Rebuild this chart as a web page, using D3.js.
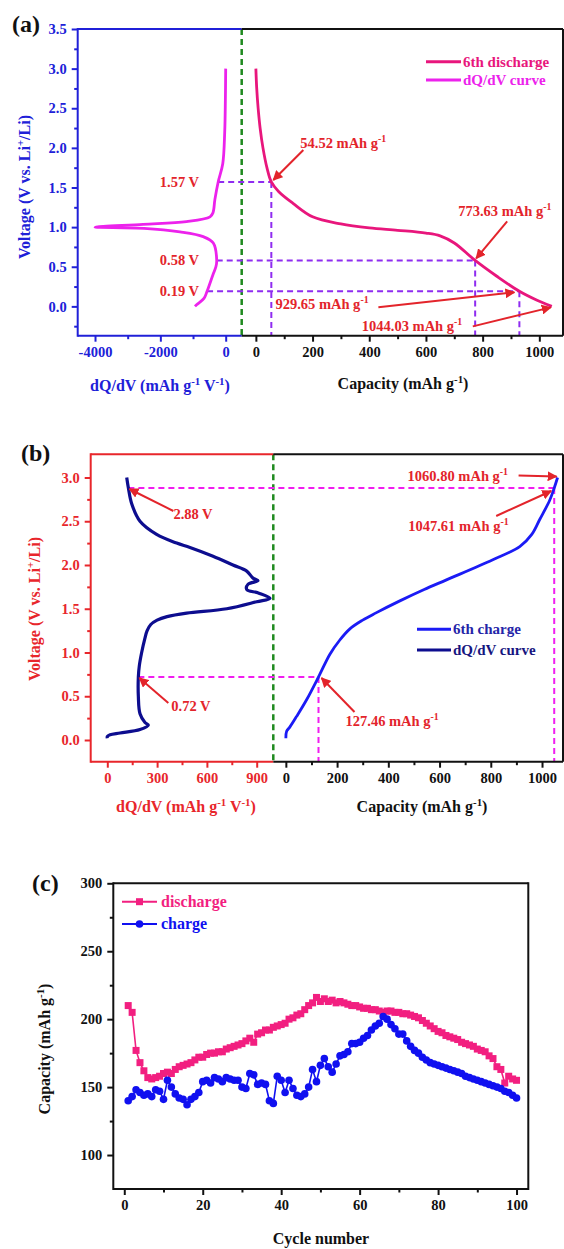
<!DOCTYPE html>
<html>
<head>
<meta charset="utf-8">
<script src="https://cdn.jsdelivr.net/npm/d3@7"></script>
<style>
  body { margin: 0; background: #fff; }
  svg { display: block; font-family: "Liberation Serif", "Times New Roman", serif; font-weight: bold; }
</style>
</head>
<body>
<div id="chart"></div>
<script>
// ---- panel (a): 6th discharge, [capacity, voltage]
var dischargeCurve = [[0, 3.0], [3, 2.75], [8, 2.5], [15, 2.25], [25, 2.0], [39, 1.75], [54.52, 1.57],
  [80, 1.45], [131, 1.30], [200, 1.13], [300, 1.04], [400, 0.99], [500, 0.96], [600, 0.925],
  [650, 0.89], [700, 0.80], [773.63, 0.58], [850, 0.38], [929.65, 0.19], [990, 0.08], [1044.03, 0.0]];
// dQ/dV of the discharge, [dQ/dV, voltage]
var dischargeDqdv = [[0, 3.0], [-10, 2.6], [-30, 2.2], [-90, 1.8], [-230, 1.57], [-330, 1.35],
  [-390, 1.18], [-480, 1.13], [-1200, 1.07], [-2530, 1.035], [-4000, 1.0], [-2500, 0.985],
  [-1400, 0.94], [-690, 0.88], [-380, 0.8], [-275, 0.58], [-300, 0.5], [-390, 0.4], [-570, 0.19],
  [-665, 0.1], [-890, 0.02], [-940, 0.0]];
// marked points: voltage, dQ/dV at that voltage, capacity at that voltage
var marksA = [
  { v: 1.57, dq: -230, cap: 54.52 },
  { v: 0.58, dq: -275, cap: 773.63 },
  { v: 0.19, dq: -570, cap: 929.65 }
];

// ---- panel (b): 6th charge
var chargeCurve = [[0, 0.02], [3, 0.10], [16, 0.15], [42, 0.27], [81, 0.46], [127.46, 0.72],
  [172, 0.98], [210, 1.14], [250, 1.27], [300, 1.37], [350, 1.45], [445, 1.59], [540, 1.72],
  [627, 1.83], [808, 2.06], [913, 2.21], [960, 2.35], [991, 2.52], [1030, 2.74], [1047.61, 2.88],
  [1060.8, 3.0]];
var chargeDqdv = [[117, 3.0], [127, 2.88], [147, 2.7], [197, 2.5], [297, 2.35], [418, 2.25],
  [498, 2.2], [637, 2.1], [757, 2.0], [840, 1.93], [878, 1.85], [908, 1.82], [848, 1.78],
  [840, 1.72], [910, 1.68], [980, 1.62], [900, 1.58], [720, 1.5], [478, 1.45], [360, 1.41],
  [300, 1.37], [262, 1.32], [240, 1.25], [225, 1.15], [207, 1.0], [193, 0.85], [187, 0.72], [187, 0.5],
  [197, 0.3], [227, 0.2], [247, 0.17], [197, 0.12], [77, 0.08], [17, 0.06], [0, 0.04], [0, 0.02]];
var marksB = [
  { v: 2.88, dq: 127, cap: 1047.61 },
  { v: 0.72, dq: 187, cap: 127.46 }
];

// ---- panel (c): cycling
var cycles = d3.range(1, 101);
var dischargeCap = [210, 205, 177, 168, 162, 157, 156, 157, 158, 160,
  161, 160, 163, 165, 166, 167, 168, 170, 172, 172,
  174, 175, 175, 176, 176, 178, 179, 180, 181, 182,
  184, 186, 183, 189, 190, 192, 192, 194, 195, 196,
  197, 200, 201, 203, 204, 207, 210, 212, 216, 213,
  215, 213, 214, 212, 213, 212, 211, 210, 210, 209,
  208, 208, 207, 207, 206, 205, 206, 206, 205, 205,
  204, 204, 203, 202, 201, 199, 197, 195, 193, 191,
  190, 188, 187, 186, 185, 183, 182, 181, 180, 178,
  177, 176, 173, 171, 165, 163, 153, 158, 156, 155];
var chargeCap = [140, 143, 148, 146, 144, 145, 143, 148, 147, 141,
  155, 150, 145, 142, 141, 137, 141, 143, 146, 154,
  155, 153, 157, 156, 154, 157, 156, 155, 155, 150,
  149, 160, 159, 152, 153, 152, 140, 138, 158, 155,
  146, 155, 149, 144, 143, 145, 150, 163, 154, 166,
  171, 165, 161, 167, 173, 174, 176, 182, 182, 183,
  186, 188, 192, 195, 197, 202, 200, 196, 193, 189,
  189, 184, 180, 177, 175, 172, 170, 168, 167, 166,
  165, 164, 163, 162, 161, 160, 158, 157, 156, 155,
  154, 153, 152, 151, 150, 149, 147, 146, 144, 142];

var width = 564, height = 1249;
var RED = '#e3242b', GREEN = '#1f8a1f', BLACK = '#111';

var svg = d3.select('#chart').append('svg')
  .attr('width', width)
  .attr('height', height);

var defs = svg.append('defs');
defs.append('marker')
  .attr('id', 'arrow')
  .attr('viewBox', '0 0 10 10')
  .attr('refX', 9).attr('refY', 5)
  .attr('markerWidth', 5).attr('markerHeight', 5)
  .attr('orient', 'auto')
  .append('path')
  .attr('d', 'M0,0L10,5L0,10z')
  .attr('fill', RED);

// text with ^{...} superscripts
function richText(sel, str) {
  var sup = false;
  str.split(/(\^\{[^}]*\})/).forEach(function (part) {
    if (!part) return;
    if (part.indexOf('^{') === 0) {
      sel.append('tspan').attr('dy', -6).style('font-size', '0.68em').text(part.slice(2, -1));
      sup = true;
    } else {
      sel.append('tspan').attr('dy', sup ? 6 : 0).text(part);
      sup = false;
    }
  });
  return sel;
}

function label(x, y, str, opts) {
  opts = opts || {};
  var t = svg.append('text')
    .attr('x', x).attr('y', y)
    .attr('fill', opts.color || BLACK)
    .attr('text-anchor', opts.anchor || 'start')
    .style('font-size', (opts.size || 15) + 'px');
  return richText(t, str);
}

function vLabel(x, y, str, color) {
  var t = svg.append('text')
    .attr('transform', 'translate(' + x + ',' + y + ') rotate(-90)')
    .attr('fill', color)
    .attr('text-anchor', 'middle')
    .style('font-size', '16px');
  return richText(t, str);
}

function seg(x1, y1, x2, y2, color, w, dash) {
  return svg.append('line')
    .attr('x1', x1).attr('y1', y1).attr('x2', x2).attr('y2', y2)
    .attr('stroke', color).attr('stroke-width', w || 2)
    .attr('stroke-dasharray', dash || null);
}

// major + minor ticks with a coloured axis
function drawAxis(axisFn, scale, major, minor, pos, color, fmt) {
  var g = svg.append('g').attr('transform', pos);
  g.call(axisFn(scale).tickValues(major).tickSize(6).tickPadding(5).tickFormat(fmt));
  g.select('.domain').remove();
  g.selectAll('.tick line').attr('stroke', color).attr('stroke-width', 2);
  g.selectAll('.tick text').attr('fill', color)
    .style('font-size', '14.5px')
    .style('font-family', '"Liberation Serif", serif')
    .style('font-weight', 'bold');
  var m = svg.append('g').attr('transform', pos);
  m.call(axisFn(scale).tickValues(minor).tickSize(3.5).tickFormat(''));
  m.select('.domain').remove();
  m.selectAll('.tick line').attr('stroke', color).attr('stroke-width', 2);
}

function curve(xs, ys, data, color, w) {
  svg.append('path')
    .datum(data)
    .attr('fill', 'none')
    .attr('stroke', color)
    .attr('stroke-width', w)
    .attr('stroke-linejoin', 'round')
    .attr('d', d3.line().x(function (d) { return xs(d[0]); }).y(function (d) { return ys(d[1]); })
      .curve(d3.curveCatmullRom.alpha(0.5)));
}

function arrow(hx, hy, dx, dy) {
  svg.append('line')
    .attr('x1', hx + dx).attr('y1', hy + dy).attr('x2', hx).attr('y2', hy)
    .attr('stroke', RED).attr('stroke-width', 2)
    .attr('marker-end', 'url(#arrow)');
}

var f1 = d3.format('.1f');
var fInt = function (d) { return String(d); }; // plain hyphen minus, as in the figure

// ================= panel (a)
(function () {
  var ABLUE = '#2020d8', PINK = '#e8167c', MAG = '#ec22ec', PURP = '#8f2cf0';
  var y = d3.scaleLinear().domain([-0.37, 3.5]).range([335.7, 29]);
  var xL = d3.scaleLinear().domain([-4530, 490]).range([77.7, 241.7]);
  var xR = d3.scaleLinear().domain([-50, 1080]).range([241.7, 562]);
  var top = y.range()[1], bot = y.range()[0], split = xL.range()[1];

  label(12, 32, '(a)', { size: 24 });

  drawAxis(d3.axisLeft, y, d3.range(0, 3.51, 0.5), d3.range(-0.25, 3.3, 0.5),
    'translate(' + xL.range()[0] + ',0)', ABLUE, f1);
  drawAxis(d3.axisBottom, xL, [-4000, -2000, 0], [-3000, -1000],
    'translate(0,' + bot + ')', ABLUE, fInt);
  drawAxis(d3.axisBottom, xR, d3.range(0, 1001, 200), d3.range(100, 901, 200),
    'translate(0,' + bot + ')', BLACK, fInt);

  // dashed guides
  seg(split, top, split, bot, GREEN, 2.5, '6,4');
  marksA.forEach(function (m) {
    seg(xL(m.dq), y(m.v), xR(m.cap), y(m.v), PURP, 2, '6,4');
    seg(xR(m.cap), y(m.v), xR(m.cap), bot, PURP, 2, '6,4');
  });

  curve(xL, y, dischargeDqdv, MAG, 2.8);
  curve(xR, y, dischargeCurve, PINK, 2.8);

  // frame
  seg(xL.range()[0], top, split, top, ABLUE, 2);
  seg(xL.range()[0], top - 1, xL.range()[0], bot + 1, ABLUE, 2);
  seg(xL.range()[0], bot, split, bot, ABLUE, 2);
  seg(split, top, 563, top, BLACK, 2);
  seg(split, bot, 563, bot, BLACK, 2);
  seg(563, top, 563, bot, BLACK, 2);

  // legend
  seg(426, 61.7, 461, 61.7, PINK, 3);
  seg(426, 80, 461, 80, MAG, 3);
  label(463, 66.5, '6th discharge', { color: PINK, size: 15 });
  label(463, 85, 'dQ/dV curve', { color: MAG, size: 15 });

  // voltage labels
  marksA.forEach(function (m) {
    label(199, y(m.v) + 5, m.v.toFixed(2) + ' V', { color: RED, size: 14.5, anchor: 'end' });
  });

  // capacity labels with arrows
  var p = marksA[0];
  arrow(xR(p.cap) + 2, y(p.v) - 2, 30, -30);
  label(xR(p.cap) + 29, y(p.v) - 34, p.cap.toFixed(2) + ' mAh g^{-1}', { color: RED, size: 14.5 });
  p = marksA[1];
  arrow(xR(p.cap) + 1, y(p.v) - 2, 31, -37);
  label(xR(p.cap) - 17, y(p.v) - 44, p.cap.toFixed(2) + ' mAh g^{-1}', { color: RED, size: 14.5 });
  p = marksA[2];
  arrow(xR(p.cap) - 5, y(p.v) + 1, -136, 15);
  label(xR(p.cap) - 244, y(p.v) + 18, p.cap.toFixed(2) + ' mAh g^{-1}', { color: RED, size: 14.5 });
  var endCap = dischargeCurve[dischargeCurve.length - 1];
  arrow(xR(endCap[0]) - 1, y(endCap[1]) + 1, -78, 19);
  label(xR(endCap[0]) - 190, y(endCap[1]) + 25, endCap[0].toFixed(2) + ' mAh g^{-1}', { color: RED, size: 14.5 });

  // axis titles
  vLabel(30, 187, 'Voltage (V vs. Li^{+}/Li)', ABLUE);
  label(160, 391, 'dQ/dV (mAh g^{-1} V^{-1})', { color: ABLUE, size: 16, anchor: 'middle' });
  label(403, 389, 'Capacity (mAh g^{-1})', { color: BLACK, size: 16, anchor: 'middle' });
})();

// ================= panel (b)
(function () {
  var BRED = '#e8262b', CBLUE = '#1b1bf5', NAVY = '#0d0d8f', MAG = '#f01ef0';
  var y = d3.scaleLinear().domain([-0.248, 3.265]).range([761.7, 454.3]);
  var xL = d3.scaleLinear().domain([-100, 1000]).range([90.7, 273.3]);
  var xR = d3.scaleLinear().domain([-49, 1078]).range([273.3, 562]);
  var top = y.range()[1], bot = y.range()[0], split = xL.range()[1];

  label(21, 461, '(b)', { size: 24 });

  drawAxis(d3.axisLeft, y, d3.range(0, 3.01, 0.5), d3.range(0.25, 2.8, 0.5),
    'translate(' + xL.range()[0] + ',0)', BRED, f1);
  drawAxis(d3.axisBottom, xL, [0, 300, 600, 900], [150, 450, 750],
    'translate(0,' + bot + ')', BRED, fInt);
  drawAxis(d3.axisBottom, xR, d3.range(0, 1001, 200), d3.range(100, 901, 200),
    'translate(0,' + bot + ')', BLACK, fInt);

  seg(split, top, split, bot, GREEN, 2.5, '6,4');
  marksB.forEach(function (m) {
    seg(xL(m.dq), y(m.v), xR(m.cap), y(m.v), MAG, 2, '6,4');
    seg(xR(m.cap), y(m.v), xR(m.cap), bot, MAG, 2, '6,4');
  });

  curve(xL, y, chargeDqdv, NAVY, 3.2);
  curve(xR, y, chargeCurve, CBLUE, 2.8);

  seg(xL.range()[0], top, split, top, BRED, 2);
  seg(xL.range()[0], top - 1, xL.range()[0], bot + 1, BRED, 2);
  seg(xL.range()[0], bot, split, bot, BRED, 2);
  seg(split, top, 563, top, BLACK, 2);
  seg(split, bot, 563, bot, BLACK, 2);
  seg(563, top, 563, bot, BLACK, 2);

  // legend
  seg(417, 629.3, 451, 629.3, CBLUE, 3);
  seg(417, 650, 451, 650, NAVY, 3);
  label(453, 634, '6th charge', { color: '#2525a8', size: 15 });
  label(453, 655, 'dQ/dV curve', { color: '#161680', size: 15 });

  // annotations
  var m = marksB[0];
  arrow(xL(m.dq) + 1, y(m.v) + 1, 44, 22);
  label(xL(m.dq) + 45, y(m.v) + 31, m.v.toFixed(2) + ' V', { color: RED, size: 14.5 });
  m = marksB[1];
  arrow(xL(m.dq) + 1, y(m.v) + 1, 29, 25);
  label(xL(m.dq) + 33, y(m.v) + 34, m.v.toFixed(2) + ' V', { color: RED, size: 14.5 });

  var endC = chargeCurve[chargeCurve.length - 1];
  arrow(xR(endC[0]) - 1, y(endC[1]) - 1, -38, -1);
  label(xR(endC[0]) - 150, y(endC[1]) + 4, endC[0].toFixed(2) + ' mAh g^{-1}', { color: RED, size: 14.5 });
  m = marksB[0];
  arrow(xR(m.cap) - 3, y(m.v) + 3, -55, 25);
  label(xR(m.cap) - 146, y(m.v) + 43, m.cap.toFixed(2) + ' mAh g^{-1}', { color: RED, size: 14.5 });
  m = marksB[1];
  arrow(xR(m.cap) + 3, y(m.v) + 1, 33, 34);
  label(xR(m.cap) + 27, y(m.v) + 49, m.cap.toFixed(2) + ' mAh g^{-1}', { color: RED, size: 14.5 });

  vLabel(40, 609, 'Voltage (V vs. Li^{+}/Li)', BRED);
  label(186, 812, 'dQ/dV (mAh g^{-1} V^{-1})', { color: BRED, size: 16, anchor: 'middle' });
  label(422, 812, 'Capacity (mAh g^{-1})', { color: BLACK, size: 16, anchor: 'middle' });
})();

// ================= panel (c)
(function () {
  var PINK = '#f21f80', CB = '#1010f0';
  var y = d3.scaleLinear().domain([75, 300]).range([1189, 883.3]);
  var x = d3.scaleLinear().domain([-2.8, 103]).range([113.3, 528.3]);
  var top = y.range()[1], bot = y.range()[0], left = x.range()[0], right = x.range()[1];

  label(32, 891, '(c)', { size: 24 });

  drawAxis(d3.axisLeft, y, d3.range(100, 301, 50), d3.range(125, 280, 50),
    'translate(' + left + ',0)', BLACK, fInt);
  drawAxis(d3.axisBottom, x, d3.range(0, 101, 20), d3.range(10, 91, 20),
    'translate(0,' + bot + ')', BLACK, fInt);

  var line = d3.line().x(function (d) { return x(d[0]); }).y(function (d) { return y(d[1]); });
  var dis = cycles.map(function (c, i) { return [c, dischargeCap[i]]; });
  var chg = cycles.map(function (c, i) { return [c, chargeCap[i]]; });

  svg.append('path').datum(dis).attr('fill', 'none').attr('stroke', PINK).attr('stroke-width', 1.6).attr('d', line);
  svg.selectAll('.sq').data(dis).enter().append('rect')
    .attr('class', 'sq')
    .attr('x', function (d) { return x(d[0]) - 3.5; })
    .attr('y', function (d) { return y(d[1]) - 3.5; })
    .attr('width', 7).attr('height', 7)
    .attr('fill', PINK);

  svg.append('path').datum(chg).attr('fill', 'none').attr('stroke', CB).attr('stroke-width', 1.6).attr('d', line);
  svg.selectAll('.ci').data(chg).enter().append('circle')
    .attr('class', 'ci')
    .attr('cx', function (d) { return x(d[0]); })
    .attr('cy', function (d) { return y(d[1]); })
    .attr('r', 3.8)
    .attr('fill', CB);

  // frame
  seg(left, top, right, top, BLACK, 2);
  seg(left, top - 1, left, bot + 1, BLACK, 2);
  seg(left, bot, right, bot, BLACK, 2);
  seg(right, top - 1, right, bot + 1, BLACK, 2);

  // legend
  seg(122, 901.7, 157, 901.7, PINK, 2);
  svg.append('rect').attr('x', 136).attr('y', 898.2).attr('width', 7).attr('height', 7).attr('fill', PINK);
  label(161, 907, 'discharge', { color: PINK, size: 16 });
  seg(122, 924, 157, 924, CB, 2);
  svg.append('circle').attr('cx', 139.5).attr('cy', 924).attr('r', 3.8).attr('fill', CB);
  label(161, 929, 'charge', { color: CB, size: 16 });

  vLabel(50, 1049, 'Capacity (mAh g^{-1})', BLACK);
  label(321, 1244, 'Cycle number', { color: BLACK, size: 16, anchor: 'middle' });
})();
</script>
</body>
</html>
